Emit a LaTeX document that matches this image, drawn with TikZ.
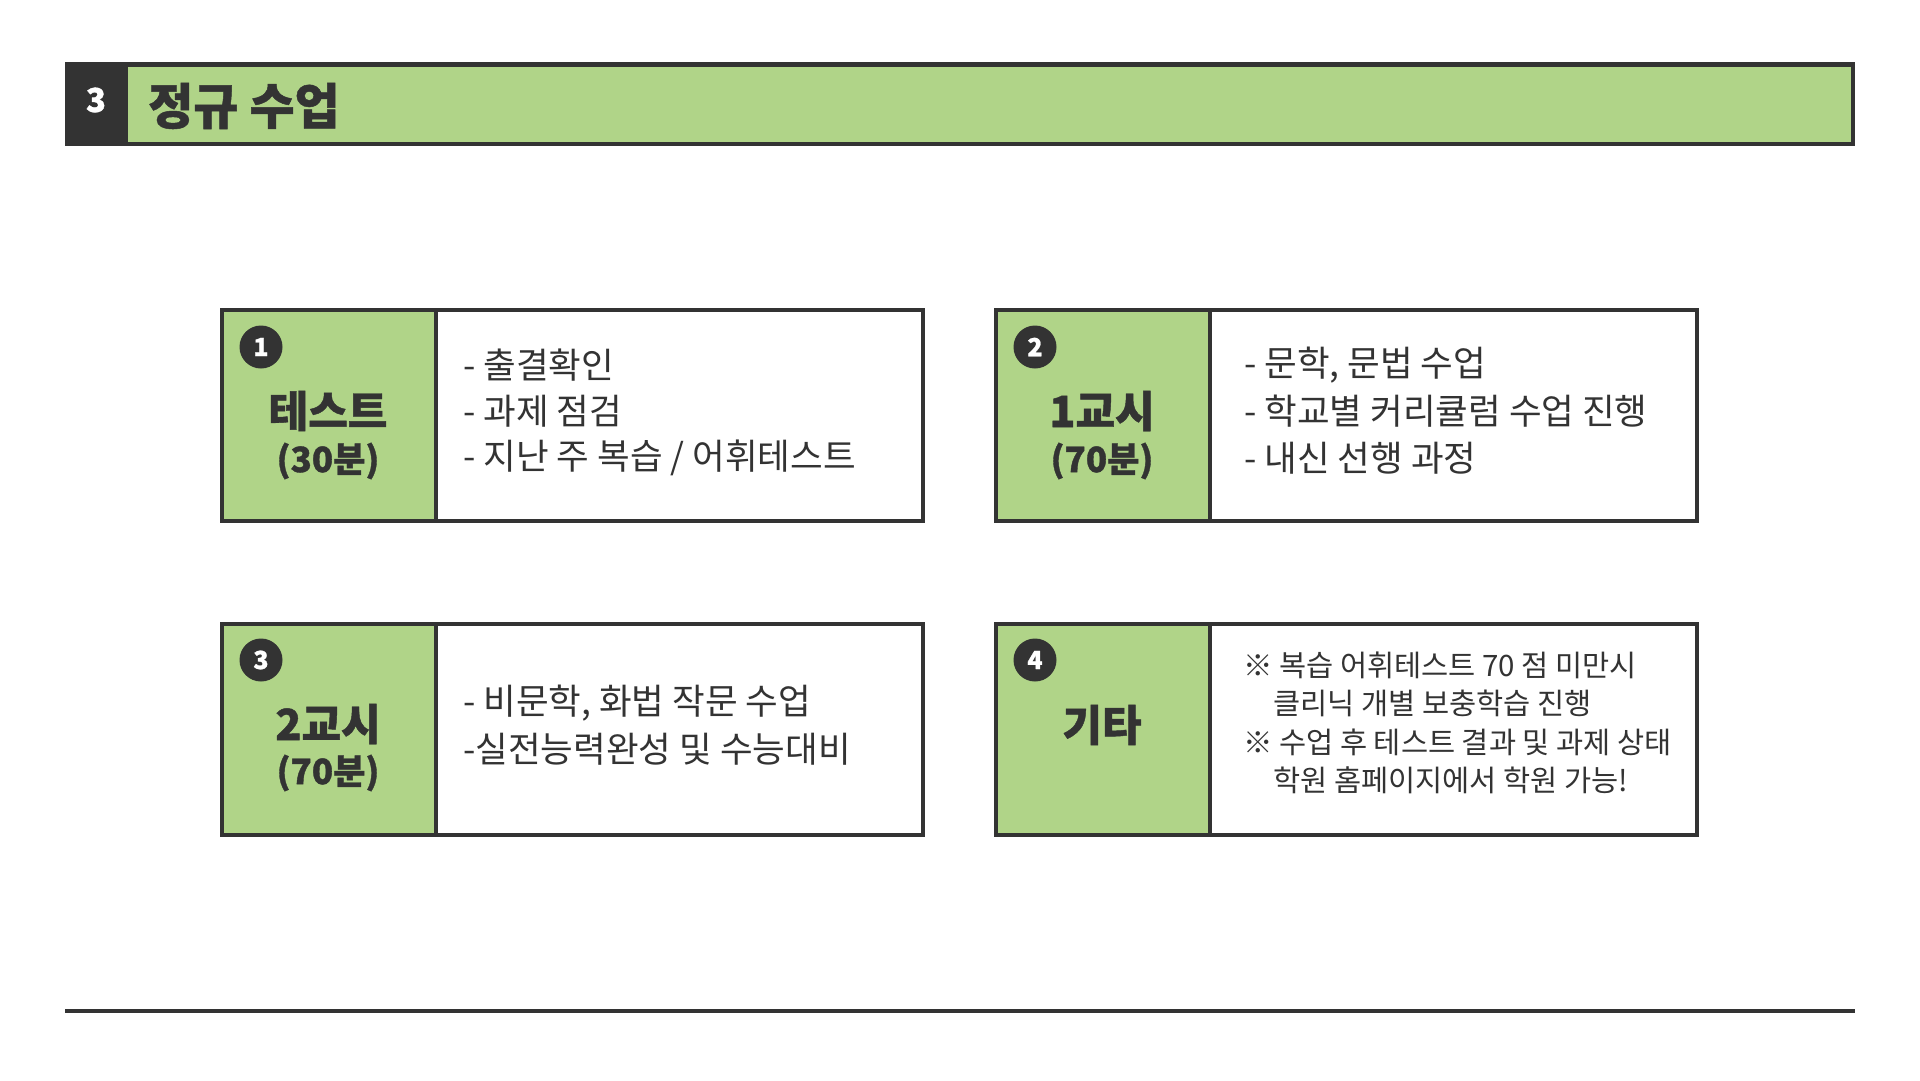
\documentclass[tikz,border=0pt]{standalone}
\usepackage{fontspec}
\setmainfont{Noto Sans CJK KR}
\newfontfamily\heavyfont{Noto Sans CJK KR}[BoldFeatures={FakeBold=1}]
\definecolor{lgreen}{HTML}{B0D488}
\definecolor{dgray}{HTML}{333333}
\tikzset{
  bodytxt/.style={anchor=west, inner sep=0pt, text=dgray, font=\fontsize{35.5}{42}\selectfont},
  smalltxt/.style={anchor=west, inner sep=0pt, text=dgray, font=\fontsize{29.5}{35}\selectfont},
  maintxt/.style={inner sep=0pt, text=dgray, font=\fontsize{43}{50}\selectfont\heavyfont\bfseries},
  subtxt/.style={inner sep=0pt, text=dgray, font=\fontsize{35}{42}\selectfont\heavyfont\bfseries},
  numcirc/.style={circle, fill=dgray, minimum size=43pt, inner sep=0pt, text=white, font=\fontsize{25}{28}\selectfont\heavyfont\bfseries},
  frame/.style={draw=dgray, line width=4pt},
}
\begin{document}
\begin{tikzpicture}[x=1pt,y=-1pt]
\useasboundingbox[fill=white] (0,0) rectangle (1920,1080);

% header
\fill[dgray] (65,62) rectangle (1855,146);
\fill[lgreen] (128,67) rectangle (1851,142);
\node[inner sep=0pt, text=white, font=\fontsize{33}{38}\selectfont\heavyfont\bfseries] (hnum) at (96,100) {3};
\node[anchor=west, inner sep=0pt, text=dgray, font=\fontsize{49}{56}\selectfont\heavyfont\bfseries] (htitle) at (148,106) {정규 수업};

% bottom rule
\draw[dgray, line width=4pt] (65,1011) -- (1855,1011);

% boxes
\foreach \bx/\by in {220/308, 994/308, 220/622, 994/622}{
  \fill[lgreen] (\bx,\by) rectangle ({\bx+216},{\by+215});
  \draw[frame] ({\bx+2},{\by+2}) rectangle ({\bx+703},{\by+213});
  \draw[frame] ({\bx+216},\by) -- ({\bx+216},{\by+215});
}

% box 1
\node[numcirc] (c1) at (261,347) {1};
\node[maintxt] (m1) at (328,411) {테스트};
\node[subtxt] (s1) at (328,461) {(30분)};
\node[bodytxt] (t1a) at (463,365) {- 출결확인};
\node[bodytxt] (t1b) at (463,411) {- 과제 점검};
\node[bodytxt] (t1c) at (463,458) {- 지난 주 복습 / 어휘테스트};

% box 2
\node[numcirc] (c2) at (1035,347) {2};
\node[maintxt] (m2) at (1102,411) {1교시};
\node[subtxt] (s2) at (1102,461) {(70분)};
\node[bodytxt] (t2a) at (1244,365) {- 문학, 문법 수업};
\node[bodytxt] (t2b) at (1244,411) {- 학교별 커리큘럼 수업 진행};
\node[bodytxt] (t2c) at (1244,458) {- 내신 선행 과정};

% box 3
\node[numcirc] (c3) at (261,660) {3};
\node[maintxt] (m3) at (328,724) {2교시};
\node[subtxt] (s3) at (328,773) {(70분)};
\node[bodytxt] (t3a) at (463,703) {- 비문학, 화법 작문 수업};
\node[bodytxt] (t3b) at (463,749) {-실전능력완성 및 수능대비};

% box 4
\node[numcirc] (c4) at (1035,660) {4};
\node[maintxt] (m4) at (1102,725) {기타};
\node[smalltxt] (t4a) at (1243,665) {※ 복습 어휘테스트 70 점 미만시};
\node[smalltxt] (t4b) at (1273,703.5) {클리닉 개별 보충학습 진행};
\node[smalltxt] (t4c) at (1243,742) {※ 수업 후 테스트 결과 및 과제 상태};
\node[smalltxt] (t4d) at (1273,780.5) {학원 홈페이지에서 학원 가능!};
\end{tikzpicture}
\end{document}
